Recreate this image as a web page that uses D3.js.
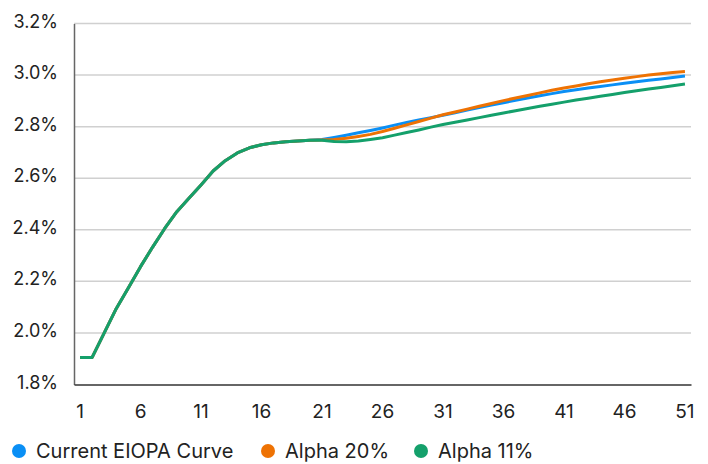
<!DOCTYPE html>
<html>
<head>
<meta charset="utf-8">
<script src="https://cdn.jsdelivr.net/npm/d3@7"></script>
<style>
  html, body { margin: 0; padding: 0; background: #fff; }
  svg { display: block; font-family: Inter, "Noto Sans", sans-serif; }
</style>
</head>
<body>
<svg id="chart" width="708" height="464"></svg>
<script>
const years = d3.range(1, 52);
const xTickLabels = [1, 6, 11, 16, 21, 26, 31, 36, 41, 46, 51];
const yTickValues = [1.8, 2.0, 2.2, 2.4, 2.6, 2.8, 3.0, 3.2];

const commonStart = [1.905, 1.905, 2.000, 2.095, 2.175, 2.257, 2.333, 2.405, 2.470, 2.522,
  2.574, 2.628, 2.668, 2.698, 2.718, 2.730, 2.737, 2.741, 2.744, 2.747];

const currentEiopa = commonStart.concat([2.750, 2.758, 2.767, 2.776, 2.785, 2.795, 2.806, 2.816, 2.826, 2.835,
  2.844, 2.854, 2.864, 2.874, 2.884, 2.893, 2.902, 2.911, 2.920, 2.928,
  2.936, 2.943, 2.950, 2.956, 2.962, 2.968, 2.974, 2.980, 2.985, 2.991, 2.996]);

const alpha20 = commonStart.concat([2.748, 2.750, 2.755, 2.762, 2.770, 2.781, 2.794, 2.807, 2.820, 2.833,
  2.846, 2.857, 2.868, 2.879, 2.890, 2.901, 2.911, 2.921, 2.931, 2.941,
  2.950, 2.958, 2.966, 2.974, 2.981, 2.988, 2.994, 3.000, 3.005, 3.010, 3.014]);

const alpha11 = commonStart.concat([2.747, 2.742, 2.741, 2.744, 2.750, 2.757, 2.767, 2.777, 2.787, 2.798,
  2.808, 2.817, 2.826, 2.835, 2.844, 2.853, 2.862, 2.870, 2.879, 2.887,
  2.895, 2.903, 2.910, 2.918, 2.925, 2.932, 2.939, 2.946, 2.952, 2.959, 2.965]);

const seriesNames = ["Current EIOPA Curve", "Alpha 20%", "Alpha 11%"];
const seriesColors = ["#0a8ff5", "#ee7203", "#14a06b"];
const seriesValues = [currentEiopa, alpha20, alpha11];

const svg = d3.select("#chart");
const mLeft = 74, mRight = 691, mTop = 23.5, mBottom = 384.5;

const x = d3.scaleBand().domain(years).range([mLeft, mRight]).paddingInner(0).paddingOuter(0);
const xc = d => x(d) + x.bandwidth() / 2;
const y = d3.scaleLinear().domain([1.8, 3.2]).range([mBottom, mTop]);

// gridlines
svg.append("g").selectAll("line")
  .data(yTickValues.filter(v => v > 1.8))
  .join("line")
  .attr("x1", mLeft).attr("x2", mRight)
  .attr("y1", d => y(d)).attr("y2", d => y(d))
  .attr("stroke", "#d0d0d0").attr("stroke-width", 1.5);

// y axis
const yAxis = svg.append("g").attr("transform", `translate(${mLeft},0)`)
  .call(d3.axisLeft(y).tickValues(yTickValues).tickSize(0).tickPadding(16)
    .tickFormat(d => d.toFixed(1) + "%"));
yAxis.select(".domain").attr("stroke", "#666").attr("stroke-width", 1.5);
yAxis.selectAll("text").attr("font-size", 18).attr("fill", "#222")
  .attr("font-family", "Inter, 'Noto Sans', sans-serif").attr("dy", "0.2em");

// x axis
const xAxis = svg.append("g").attr("transform", `translate(0,${mBottom})`)
  .call(d3.axisBottom(x).tickValues(xTickLabels).tickSize(0).tickPadding(20));
xAxis.select(".domain").attr("stroke", "#333").attr("stroke-width", 1.5);
xAxis.selectAll("text").attr("font-size", 19).attr("fill", "#222")
  .attr("font-family", "Inter, 'Noto Sans', sans-serif");

// lines
const line = d3.line().x((d, i) => xc(years[i])).y(d => y(d));
svg.append("g").selectAll("path")
  .data(seriesValues)
  .join("path")
  .attr("d", d => line(d))
  .attr("fill", "none")
  .attr("stroke", (d, i) => seriesColors[i])
  .attr("stroke-width", 3)
  .attr("stroke-linejoin", "round");

// legend
const legendX = [19, 268, 421];
const lg = svg.append("g");
seriesNames.forEach((name, i) => {
  lg.append("circle").attr("cx", legendX[i]).attr("cy", 451).attr("r", 7).attr("fill", seriesColors[i]);
  lg.append("text").attr("x", legendX[i] + 17).attr("y", 458)
    .attr("font-size", 20).attr("fill", "#222").text(name);
});
</script>
</body>
</html>
